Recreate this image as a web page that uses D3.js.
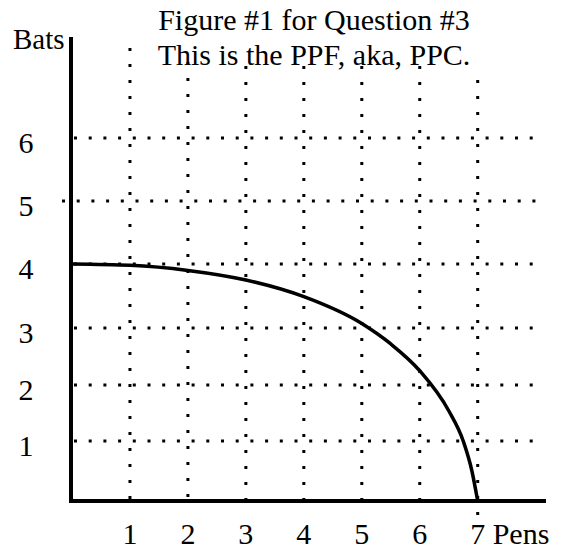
<!DOCTYPE html>
<html>
<head>
<meta charset="utf-8">
<script src="https://cdn.jsdelivr.net/npm/d3@7"></script>
<style>
  html, body { margin: 0; padding: 0; background: #fff; }
  svg { display: block; }
  text { font-family: "Liberation Serif", "Times New Roman", serif; fill: #000; }
</style>
</head>
<body>
<svg id="chart" width="567" height="552"></svg>
<script>
// ---- data ----
const titleLines = ["Figure #1 for Question #3", "This is the PPF, aka, PPC."];
const xLabel = "Pens";
const yLabel = "Bats";
const xTicks = [1, 2, 3, 4, 5, 6, 7];
const yTicks = [1, 2, 3, 4, 5, 6];
// PPF curve (Pens, Bats)
const pens = [0, 1, 2, 3, 4, 5, 5.5, 6, 6.5, 6.75, 6.9, 7];
const bats = [4, 3.98, 3.9, 3.75, 3.49, 3.07, 2.72, 2.25, 1.54, 1.0, 0.5, 0];

// ---- layout ----
const svg = d3.select("#chart");
const x = d3.scaleLinear().domain([0, 7]).range([72, 477.7]);
// grid rows in the original are hand-placed, so use a piecewise-linear scale
const y = d3.scaleLinear().domain([0, 1, 2, 3, 4, 5, 6]).range([501, 441, 385, 328, 264, 201, 138]);

const gridRight = 538;

// horizontal dotted grid lines
svg.append("g").selectAll("line").data(yTicks).join("line")
  .attr("x1", d => d === 5 ? 62 : x(0) + 2)
  .attr("x2", gridRight)
  .attr("y1", d => y(d)).attr("y2", d => y(d))
  .attr("stroke", "#000").attr("stroke-width", 3)
  .attr("stroke-dasharray", "3,11.7");

// vertical dotted grid lines
svg.append("g").selectAll("line").data(xTicks).join("line")
  .attr("x1", d => x(d)).attr("x2", d => x(d))
  .attr("y1", d => d === 1 ? 48 : (d === 2 ? 62 : (d === 7 ? 80 : 66)))
  .attr("y2", d => d === 7 ? 516 : 503)
  .attr("stroke", "#000").attr("stroke-width", 3)
  .attr("stroke-dasharray", "3,13");

// axes
svg.append("line")
  .attr("x1", x(0) - 1).attr("x2", x(0) - 1)
  .attr("y1", 37).attr("y2", y(0) + 2)
  .attr("stroke", "#000").attr("stroke-width", 4);
svg.append("line")
  .attr("x1", x(0) - 3).attr("x2", 546)
  .attr("y1", y(0)).attr("y2", y(0))
  .attr("stroke", "#000").attr("stroke-width", 4);

// PPF curve
const pts = pens.map((p, i) => [p, bats[i]]);
svg.append("path")
  .datum(pts)
  .attr("d", d3.line().x(d => x(d[0])).y(d => y(d[1])).curve(d3.curveMonotoneX))
  .attr("fill", "none").attr("stroke", "#000").attr("stroke-width", 3.5);

// tick labels
svg.append("g").selectAll("text").data(yTicks).join("text")
  .attr("x", 26).attr("y", d => y(d) + 15)
  .attr("text-anchor", "middle")
  .attr("font-size", 30)
  .text(d => d);

svg.append("g").selectAll("text").data(xTicks).join("text")
  .attr("x", d => x(d)).attr("y", 544)
  .attr("text-anchor", "middle")
  .attr("font-size", 30)
  .text(d => d);

svg.append("text")
  .attr("x", x(7) + 15).attr("y", 544)
  .attr("font-size", 30)
  .text(xLabel);

svg.append("text")
  .attr("x", 13).attr("y", 49)
  .attr("font-size", 29)
  .text(yLabel);

// title
svg.append("g").selectAll("text").data(titleLines).join("text")
  .attr("x", 314).attr("y", (d, i) => i === 0 ? 30 : 65)
  .attr("text-anchor", "middle")
  .attr("font-size", 30)
  .text(d => d);
</script>
</body>
</html>
